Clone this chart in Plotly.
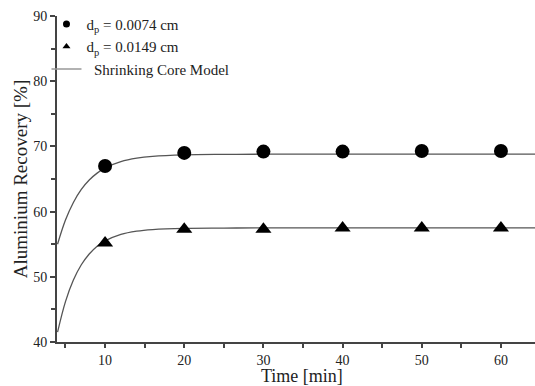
import plotly.graph_objects as go

# Experimental data
time_pts = [10, 20, 30, 40, 50, 60]
rec_small = [67.0, 69.0, 69.2, 69.2, 69.3, 69.3]   # dp = 0.0074 cm
rec_large = [55.2, 57.3, 57.3, 57.5, 57.5, 57.5]   # dp = 0.0149 cm

# Shrinking core model curves
model_t = [4, 5, 6, 7, 8, 9, 10, 12, 14, 16, 20, 25, 30, 40, 50, 60, 64.3]
model_small = [55.0, 58.7, 61.4, 63.4, 64.85, 65.9, 66.7, 67.67, 68.2, 68.48, 68.71, 68.78, 68.8, 68.8, 68.8, 68.8, 68.8]
model_large = [41.5, 46.2, 49.5, 51.85, 53.5, 54.7, 55.5, 56.5, 57.0, 57.25, 57.44, 57.48, 57.5, 57.5, 57.5, 57.5, 57.5]

x_ticks = [10, 20, 30, 40, 50, 60]
y_ticks = [40, 50, 60, 70, 80, 90]

FONT = "Liberation Serif, Times New Roman, serif"
LINE_C = "#555555"
AXIS_C = "#444444"
TXT_C = "#222222"

fig = go.Figure()
fig.add_trace(go.Scatter(x=model_t, y=model_small, mode="lines", line=dict(color=LINE_C, width=1.3, shape="spline"),
                         showlegend=False, hoverinfo="skip"))
fig.add_trace(go.Scatter(x=model_t, y=model_large, mode="lines", line=dict(color=LINE_C, width=1.3, shape="spline"),
                         showlegend=False, hoverinfo="skip"))
fig.add_trace(go.Scatter(x=time_pts, y=rec_small, mode="markers", showlegend=False,
                         marker=dict(symbol="circle", size=14, color="black")))
fig.add_trace(go.Scatter(x=time_pts, y=rec_large, mode="markers", showlegend=False,
                         marker=dict(symbol="triangle-up", size=14, color="black")))
# legend entries
fig.add_trace(go.Scatter(x=[None], y=[None], mode="markers", name="d<sub>p</sub> = 0.0074 cm",
                         marker=dict(symbol="circle", size=7, color="black")))
fig.add_trace(go.Scatter(x=[None], y=[None], mode="markers", name="d<sub>p</sub> = 0.0149 cm",
                         marker=dict(symbol="triangle-up", size=7, color="black")))
fig.add_trace(go.Scatter(x=[None], y=[None], mode="lines", name="&nbsp;&nbsp;Shrinking Core Model",
                         line=dict(color="#999999", width=1.5)))

fig.update_layout(
    width=535, height=386,
    margin=dict(l=57, r=0, t=16, b=44),
    paper_bgcolor="white", plot_bgcolor="white",
    font=dict(family=FONT, size=14, color=TXT_C),
    legend=dict(x=-0.022, y=1.025, xanchor="left", yanchor="top", itemwidth=30,
                font=dict(family=FONT, size=15, color=TXT_C),
                bgcolor="rgba(0,0,0,0)", tracegroupgap=0),
    xaxis=dict(range=[3.93, 64.3], tickvals=x_ticks, ticks="outside", ticklen=4, tickwidth=1.5,
               tickcolor=AXIS_C, showline=True, linecolor=AXIS_C, linewidth=2, showgrid=False, zeroline=False,
               minor=dict(tickvals=[5, 15, 25, 35, 45, 55], ticks="outside", ticklen=4, tickwidth=1.5, tickcolor=AXIS_C),
               tickfont=dict(family=FONT, size=14)),
    yaxis=dict(range=[40, 90], tickvals=y_ticks, ticks="outside", ticklen=5, tickwidth=1.5,
               tickcolor=AXIS_C, showline=True, linecolor=AXIS_C, linewidth=2, showgrid=False, zeroline=False,
               minor=dict(tickvals=[45, 55, 65, 75, 85], ticks="outside", ticklen=4, tickwidth=1.5, tickcolor=AXIS_C),
               title=dict(text="Aluminium Recovery [%]", font=dict(family=FONT, size=19), standoff=1),
               tickfont=dict(family=FONT, size=14)),
    annotations=[dict(text="Time [min]", xref="paper", yref="paper", x=0.512, y=-0.103,
                      xanchor="center", yanchor="middle", showarrow=False,
                      font=dict(family=FONT, size=18, color=TXT_C))],
)

fig.write_html("out.html")
